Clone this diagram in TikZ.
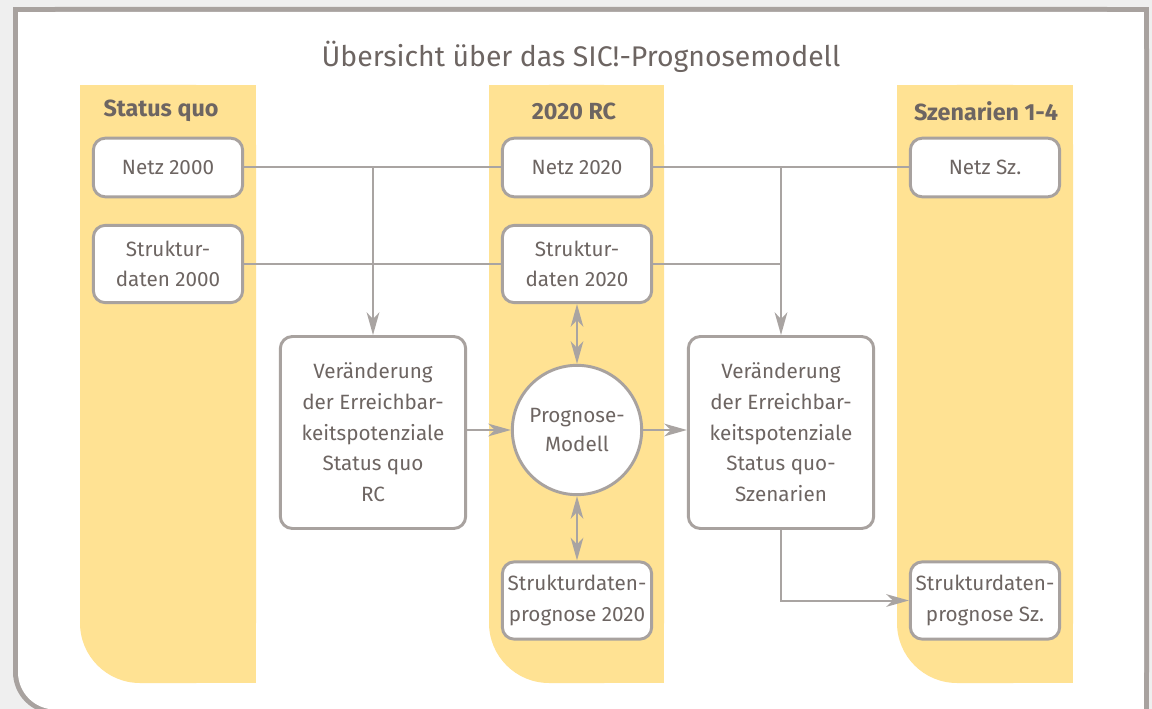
\documentclass[tikz,border=0pt]{standalone}
\usepackage{fontspec}
\setmainfont{Fira Sans}
\usetikzlibrary{arrows.meta}
\definecolor{bgout}{HTML}{EFEFEF}
\definecolor{framec}{HTML}{A8A29F}
\definecolor{colyel}{HTML}{FFE293}
\definecolor{txt}{HTML}{6D6562}
\definecolor{lnc}{HTML}{A9A4A2}
\begin{document}
\begin{tikzpicture}[x=0.75pt,y=-0.75pt,
  box/.style={draw=framec, line width=2.2pt, fill=white, rounded corners=9pt,
    minimum width=112pt, minimum height=44pt, align=center, text=txt,
    font=\fontsize{15.5}{23}\selectfont, inner sep=0pt},
  tallbox/.style={box, minimum height=58pt},
  bigbox/.style={box, minimum width=139pt, minimum height=144pt},
  circnode/.style={draw=framec, line width=2.2pt, fill=white, circle,
    minimum size=97pt, align=center, text=txt,
    font=\fontsize{15.5}{21.5}\selectfont, inner sep=0pt},
  head/.style={text=txt, font=\fontsize{17.5}{20}\selectfont\bfseries},
  titlestyle/.style={text=txt, font=\fontsize{21.3}{24}\selectfont},
  conn/.style={draw=lnc, line width=1.5pt},
  arr/.style={conn, -{Stealth[length=17pt, width=9.5pt, inset=5pt]}},
  dblarr/.style={conn, {Stealth[length=17pt, width=9.5pt, inset=5pt]}-{Stealth[length=17pt, width=9.5pt, inset=5pt]}}
]
\clip (0,0) rectangle (1152,709);
\fill[bgout] (0,0) rectangle (1152,709);
% frame
\fill[framec, rounded corners=31.5pt] (13,7) rectangle (1149,714);
\fill[framec] (13,7) rectangle (1149,600);
\fill[framec] (120,7) rectangle (1149,714);
\fill[white, rounded corners=28pt] (18,12) rectangle (1144,709.5);
\fill[white] (18,12) rectangle (1144,600);
\fill[white] (120,12) rectangle (1144,709.5);
% columns
\foreach \a/\b in {80/256, 489/664, 897/1073}{
  \fill[colyel, rounded corners=45pt] (\a,85) rectangle (\b,683);
  \fill[colyel] (\a,85) rectangle (\b,600);
  \fill[colyel] (\a+100,85) rectangle (\b,683);
}
% title and headers
\node[titlestyle] (title) at (581,57) {Übersicht über das SIC!-Prognosemodell};
\node[head] (h1) at (161,111) {Status quo};
\node[head] (h2) at (574,111) {2020 RC};
\node[head] (h3) at (986,111) {Szenarien 1-4};
% nodes
\node[box] (n00) at (168,167.5) {Netz 2000};
\node[tallbox] (s00) at (168,264) {Struktur-\\daten 2000};
\node[box] (n20) at (577,167.5) {Netz 2020};
\node[tallbox] (s20) at (577,264) {Struktur-\\daten 2020};
\node[box] (nsz) at (985,167.5) {Netz Sz.};
\node[bigbox] (v1) at (373,432.5) {Veränderung\\der Erreichbar-\\keitspotenziale\\Status quo\\RC};
\node[circnode] (pm) at (577,430) {Prognose-\\Modell};
\node[bigbox] (v2) at (781,432.5) {Veränderung\\der Erreichbar-\\keitspotenziale\\Status quo-\\Szenarien};
\node[tallbox] (p20) at (577,600.5) {Strukturdaten-\\prognose 2020};
\node[tallbox] (psz) at (985,600.5) {Strukturdaten-\\prognose Sz.};
% connectors
\draw[conn] (n00.east) -- (n20.west);
\draw[conn] (s00.east) -- (s20.west);
\draw[conn] (n20.east) -- (nsz.west);
\draw[conn] (s20.east) -- (s20.east -| v2.north);
\draw[arr] (n00.east -| v1.north) -- (v1.north);
\draw[arr] (n20.east -| v2.north) -- (v2.north);
\draw[dblarr] (s20.south) -- (pm.north);
\draw[dblarr] (pm.south) -- (p20.north);
\draw[arr] (pm.west -| v1.east) -- (pm.west);
\draw[arr] (pm.east) -- (pm.east -| v2.west);
\draw[arr] (v2.south) -- (v2.south |- psz.west) -- (psz.west);
\end{tikzpicture}
\end{document}
